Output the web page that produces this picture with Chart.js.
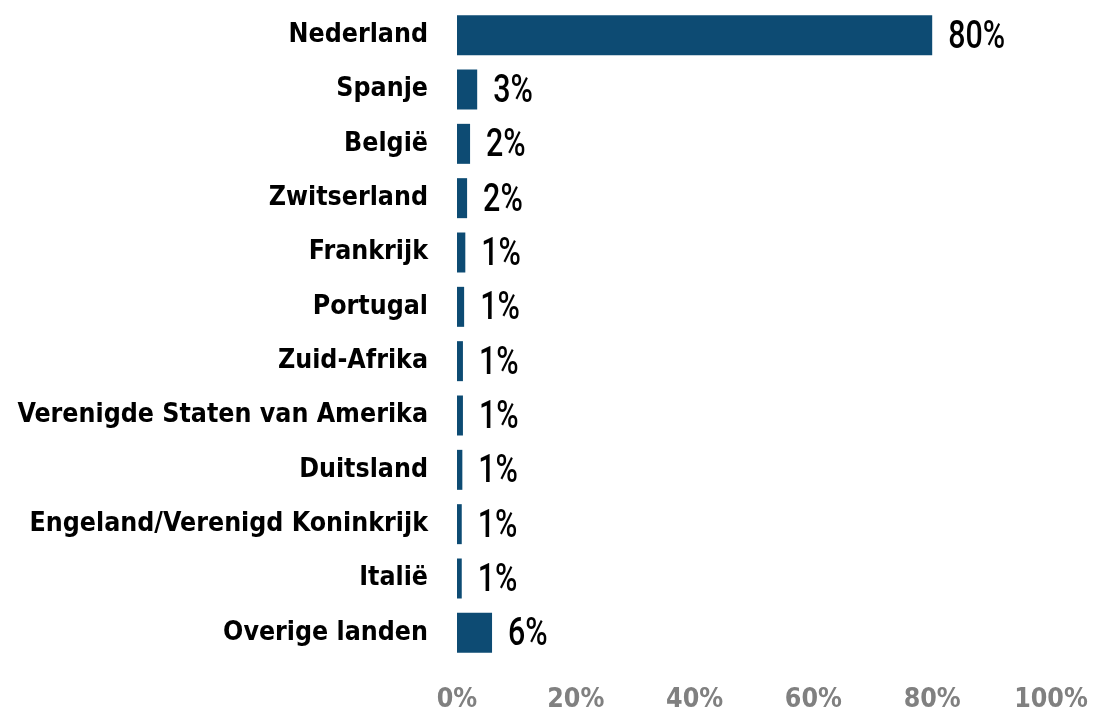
<!DOCTYPE html>
<html>
<head>
<meta charset="utf-8">
<script src="https://cdn.jsdelivr.net/npm/chart.js@4"></script>
<style>
  html, body { margin: 0; padding: 0; background: #fff; }
  #chart { display: block; }
</style>
</head>
<body>
<canvas id="chart" width="1094" height="711"></canvas>
<script>
const landen = ["Nederland", "Spanje", "België", "Zwitserland", "Frankrijk", "Portugal",
  "Zuid-Afrika", "Verenigde Staten van Amerika", "Duitsland",
  "Engeland/Verenigd Koninkrijk", "Italië", "Overige landen"];
const aandeel = [80, 3.4, 2.2, 1.7, 1.4, 1.2, 1.0, 1.0, 0.9, 0.8, 0.8, 5.9];
const xTicks = [0, 20, 40, 60, 80, 100];

const labelFont = "'DejaVu Sans Condensed', sans-serif";

// waarde achter elke balk (smal lettertype, dus horizontaal wat ingedrukt)
const valueLabels = {
  id: "valueLabels",
  afterDatasetsDraw(chart) {
    const ctx = chart.ctx;
    const meta = chart.getDatasetMeta(0);
    const squeeze = 0.8;
    meta.data.forEach((bar, i) => {
      ctx.save();
      ctx.fillStyle = "#000";
      ctx.font = "500 38px Roboto, sans-serif";
      ctx.textBaseline = "middle";
      ctx.textAlign = "left";
      ctx.translate(bar.x + 16, bar.y + 3);
      ctx.scale(squeeze, 1);
      ctx.fillText(Math.round(aandeel[i]) + "%", 0, 0);
      ctx.restore();
    });
  }
};

new Chart(document.querySelector("#chart"), {
  type: "bar",
  data: {
    labels: landen,
    datasets: [{
      data: aandeel,
      backgroundColor: "#0d4b73",
      categoryPercentage: 1,
      barPercentage: 0.736
    }]
  },
  options: {
    indexAxis: "y",
    responsive: false,
    animation: false,
    layout: { padding: { top: 8, right: 43, bottom: 0, left: 0 } },
    plugins: { legend: { display: false }, tooltip: { enabled: false } },
    scales: {
      x: {
        min: 0,
        max: 100,
        afterBuildTicks: s => { s.ticks = xTicks.map(v => ({ value: v })); },
        afterFit: s => { s.paddingLeft = 0; s.paddingRight = 0; s.height = 51; },
        grid: { display: false, drawTicks: false },
        border: { display: false },
        ticks: {
          color: "#808080",
          padding: 24,
          maxRotation: 0,
          font: { family: labelFont, size: 26.5, weight: "bold" },
          callback: v => v + "%"
        }
      },
      y: {
        afterFit: s => { s.width = 457; s.paddingTop = 0; s.paddingBottom = 0; },
        grid: { display: false, drawTicks: false },
        border: { display: false },
        ticks: {
          color: "#000",
          padding: 29,
          font: { family: labelFont, size: 26.5, weight: "bold" }
        }
      }
    }
  },
  plugins: [valueLabels]
});
</script>
</body>
</html>
